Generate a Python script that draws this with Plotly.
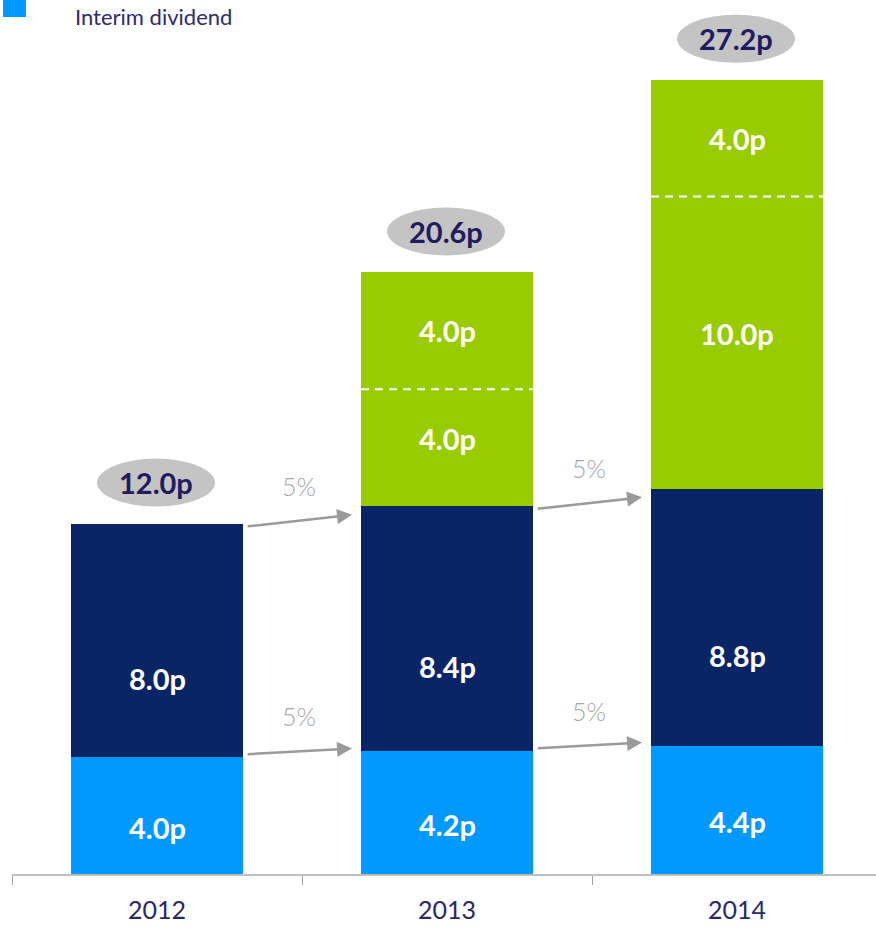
import plotly.graph_objects as go

# ---- data ----
years = ["2012", "2013", "2014"]
interim = [4.0, 4.2, 4.4]
final = [8.0, 8.4, 8.8]
special_a = [0.0, 4.0, 10.0]
special_b = [0.0, 4.0, 4.0]

# ---- style ----
C_INTERIM = "#0099ff"
C_FINAL = "#0a2566"
C_SPECIAL = "#99cc00"
C_TEXT = "#2b2862"
C_TOTAL = "#1f1b5d"
FONT = "Lato"
BAR_W = 0.593
PX_PER_UNIT = 29.2
PLOT_H = 874

totals = [a + b + c + d for a, b, c, d in zip(interim, final, special_a, special_b)]

fig = go.Figure()
series = [
    ("Interim dividend", interim, C_INTERIM, -12),
    ("Final dividend", final, C_FINAL, -38),
    ("Special dividend", special_a, C_SPECIAL, 9),
    ("Additional special dividend", special_b, C_SPECIAL, 0),
]
for name, vals, col, _ in series:
    fig.add_trace(go.Bar(x=years, y=vals, name=name, marker=dict(color=col, line=dict(width=0)),
                         hovertemplate="%{x}: %{y:.1f}p<extra>" + name + "</extra>"))

annotations = []
shapes = []

# segment labels
base = [0.0] * 3
for name, vals, col, shift in series:
    for i, v in enumerate(vals):
        if v > 0:
            annotations.append(dict(x=i, y=base[i] + v / 2, xref="x", yref="y", text=f"<b>{v:.1f}p</b>",
                                    showarrow=False, yshift=shift,
                                    font=dict(family=FONT, size=29, color="white")))
        base[i] += v

# dashed separators between the two special segments
for i in range(3):
    if special_a[i] > 0 and special_b[i] > 0:
        yv = interim[i] + final[i] + special_a[i]
        shapes.append(dict(type="line", xref="x", yref="y", x0=i - BAR_W / 2, x1=i + BAR_W / 2,
                           y0=yv, y1=yv, line=dict(color="white", width=2, dash="8px,6px")))

# totals in grey ellipses
for i, t in enumerate(totals):
    shapes.append(dict(type="circle", xref="x", yref="y", xsizemode="pixel", ysizemode="pixel",
                       xanchor=i, yanchor=t, x0=-60, x1=58, y0=17, y1=65,
                       fillcolor="#c4c4c4", line=dict(width=0), layer="above"))
    annotations.append(dict(x=i, y=t, xref="x", yref="y", text=f"<b>{t:.1f}p</b>", showarrow=False,
                            yshift=41, xshift=-1, font=dict(family=FONT, size=29, color=C_TOTAL)))

# growth arrows
start_off = BAR_W / 2 + 0.011
end_off = BAR_W / 2 + 0.031
levels = [
    ([iv for iv in interim], 0.1, 0.1),
    ([iv + fv for iv, fv in zip(interim, final)], -0.1, -0.3),
]
growth_src = [interim, final]
for (lvl, s_adj, e_adj), src in zip(levels, growth_src):
    for i in range(2):
        x0 = i + start_off
        x1 = i + 1 - end_off
        y0 = lvl[i] + s_adj
        y1 = lvl[i + 1] + e_adj
        annotations.append(dict(x=x1, y=y1, ax=x0, ay=y0, xref="x", yref="y", axref="x", ayref="y",
                                showarrow=True, arrowhead=2, arrowsize=1.2, arrowwidth=2.5,
                                arrowcolor="#9a9a9a", text=""))
        pct = round((src[i + 1] / src[i] - 1) * 100)
        annotations.append(dict(x=(x0 + x1) / 2, y=(y0 + y1) / 2, xref="x", yref="y", text=f"{pct}%",
                                showarrow=False, yshift=35,
                                font=dict(family=FONT, size=25, color="#a6a6a6", weight=300)))

# legend (partially cut off at top)
shapes.append(dict(type="rect", xref="paper", yref="paper",
                   x0=(3 - 12) / 864, x1=(26 - 12) / 864,
                   y0=(PLOT_H - 17) / PLOT_H, y1=1.02, fillcolor=C_INTERIM, line=dict(width=0)))
annotations.append(dict(x=(73 - 12) / 864, y=(PLOT_H - 1) / PLOT_H, xref="paper", yref="paper",
                        xanchor="left", yanchor="top", showarrow=False, text="Interim dividend",
                        font=dict(family=FONT, size=22, color="#2f2b6b")))

fig.update_layout(
    barmode="stack",
    bargap=1 - BAR_W,
    width=876, height=928, autosize=False,
    margin=dict(l=12, r=0, t=0, b=928 - PLOT_H, autoexpand=False),
    paper_bgcolor="white", plot_bgcolor="white",
    showlegend=False,
    annotations=annotations,
    shapes=shapes,
    xaxis=dict(type="category", range=[-0.5, -0.5 + 864 / 290], tickson="boundaries",
               ticks="outside", ticklen=9, tickcolor="#a0a0a0", tickwidth=1,
               showline=True, linecolor="#bfbfbf", linewidth=1.5, showgrid=False,
               tickfont=dict(family=FONT, size=25, color=C_TEXT), ticklabelstandoff=13),
    yaxis=dict(range=[0, PLOT_H / PX_PER_UNIT], visible=False, showgrid=False, zeroline=False),
)

fig.write_html("out.html")
